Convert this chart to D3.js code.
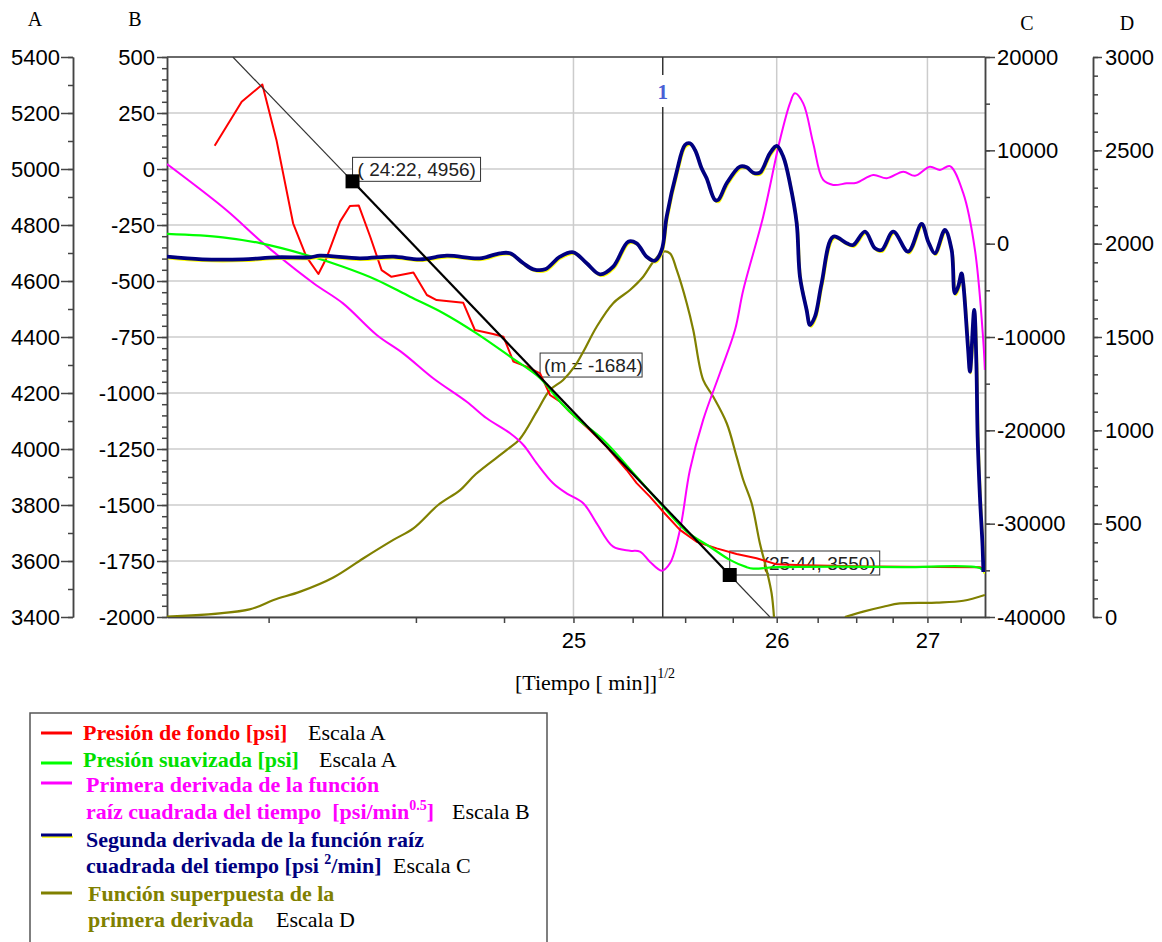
<!DOCTYPE html>
<html>
<head>
<meta charset="utf-8">
<script src="https://cdn.jsdelivr.net/npm/d3@7"></script>
<style>
  body { margin: 0; background: #fff; }
  svg { display: block; font-family: "Liberation Sans", Arial, sans-serif; }
  .serif { font-family: "Liberation Serif", "Times New Roman", serif; white-space: pre; }
</style>
</head>
<body>
<div id="chart"></div>
<script>
// inicio del cierre y fin del registro [h]; el eje x es la raiz del tiempo transcurrido
const T0 = 24.2;
const T_FIN = 27.44;

// [tiempo h, valor]
const presionFondo = [[24.211,5083],[24.227,5240],[24.244,5302],[24.258,5104],[24.277,4806],[24.294,4687],
  [24.311,4625],[24.323,4681],[24.345,4812],[24.362,4868],[24.378,4870],[24.400,4758],[24.423,4639],
  [24.444,4615],[24.494,4630],[24.527,4550],[24.552,4532],[24.625,4522],[24.659,4425],[24.715,4411],
  [24.748,4401],[24.781,4312],[24.826,4294],[24.874,4270],[24.910,4193],[24.948,4169],[24.986,4132],
  [25.066,4068],[25.136,4008],[25.223,3925],[25.268,3878],[25.329,3830],[25.392,3776],[25.474,3711],
  [25.558,3669],[25.663,3645],[25.771,3625],[25.883,3610],[26.000,3588],[26.160,3585],[26.593,3580],
  [27.068,3579],[27.400,3578],[27.439,3568]];

const presionSuavizada = [[24.200,4768],[24.215,4756],[24.242,4735],[24.294,4693],[24.350,4651],[24.413,4604],
  [24.486,4544],[24.570,4485],[24.664,4413],[24.770,4330],[24.874,4253],[24.948,4169],[25.013,4110],
  [25.122,4032],[25.268,3901],[25.392,3794],[25.508,3705],[25.627,3651],[25.734,3604],[25.827,3578],
  [25.864,3573],[26.000,3578],[26.371,3580],[26.825,3578],[27.400,3575],[27.439,3557]];

const primeraDerivada = [[24.200,22],[24.217,-183],[24.245,-332],[24.304,-510],[24.350,-600],[24.413,-741],
  [24.470,-823],[24.543,-934],[24.635,-1039],[24.695,-1113],[24.770,-1180],[24.815,-1232],[24.862,-1314],
  [24.922,-1403],[24.973,-1448],[25.039,-1492],[25.094,-1582],[25.164,-1686],[25.238,-1704],[25.283,-1708],
  [25.329,-1753],[25.385,-1793],[25.425,-1760],[25.474,-1611],[25.524,-1344],[25.592,-1120],[25.680,-912],
  [25.762,-719],[25.808,-540],[25.921,-213],[26.019,129],[26.079,293],[26.109,338],[26.160,293],
  [26.222,115],[26.285,-49],[26.349,-71],[26.437,-64],[26.503,-61],[26.615,-27],[26.708,-41],[26.825,-12],
  [26.909,-30],[27.018,10],[27.093,-4],[27.168,13],[27.270,-108],[27.361,-362],[27.426,-763],[27.439,-897]];

const segundaDerivada = [[24.200,-1396],[24.206,-1674],[24.228,-1674],[24.258,-1460],[24.299,-1460],
  [24.313,-1289],[24.380,-1567],[24.448,-1396],[24.510,-1674],[24.579,-1289],[24.674,-1567],[24.737,-1032],
  [24.770,-1032],[24.815,-2103],[24.850,-2746],[24.892,-2746],[24.948,-1396],[24.999,-924],[25.053,-2103],
  [25.108,-3282],[25.164,-2467],[25.230,211],[25.268,40],[25.314,-1396],[25.353,-1824],[25.385,-678],
  [25.409,2890],[25.458,7711],[25.499,10572],[25.524,10754],[25.550,10036],[25.584,8075],[25.610,7004],
  [25.654,4679],[25.671,4679],[25.717,6468],[25.789,8247],[25.827,8183],[25.864,7604],[25.902,7604],
  [25.960,9682],[26.000,10465],[26.039,9318],[26.079,6468],[26.120,2183],[26.140,-3539],[26.181,-7106],
  [26.202,-8714],[26.233,-7824],[26.275,-4246],[26.349,747],[26.437,40],[26.480,-142],[26.559,1283],
  [26.627,-496],[26.673,-678],[26.754,1283],[26.860,-860],[26.957,2108],[27.006,211],[27.055,-1032],
  [27.130,1465],[27.181,-678],[27.206,-5317],[27.231,-4610],[27.257,-3174],[27.270,-4246],[27.308,-11392],
  [27.322,-13717],[27.355,-7106],[27.372,-12785],[27.382,-20681],[27.400,-27110],[27.421,-32466],[27.427,-35177]];

const funcionSuperpuesta = [[24.200,2],[24.233,41],[24.255,91],[24.286,136],[24.334,212],[24.387,315],
  [24.448,413],[24.494,475],[24.556,600],[24.616,680],[24.662,766],[24.759,895],[24.803,954],[24.862,1100],
  [24.910,1216],[24.960,1270],[25.006,1345],[25.039,1421],[25.094,1555],[25.164,1681],[25.238,1752],
  [25.298,1823],[25.345,1903],[25.392,1957],[25.425,1948],[25.458,1859],[25.508,1681],[25.541,1538],
  [25.592,1270],[25.645,1180],[25.717,1038],[25.771,859],[25.808,734],[25.855,609],[25.902,395],
  [25.941,252],[25.970,127],[25.984,0],[26.200,null],[26.425,0],[26.547,29],[26.684,55],[26.801,73],
  [27.068,77],[27.270,87],[27.439,118]];

// recta de ajuste (m = -1684) y puntos marcados
const rectaAjuste = [[24.221,5400],[24.3667,4956],[25.7333,3550],[25.960,3400]];
const etiquetas = [
  {t: 24.3667, p: 4956, texto: "( 24:22, 4956)", ancho: 128, pad: 5},
  {t: 24.874, p: 4257, texto: "(m = -1684)", ancho: 102, pad: 4},
  {t: 25.7333, p: 3550, texto: "(25:44, 3550)", ancho: 150, pad: 33}
];
const marcador1 = 25.39;

const ticksX = [25, 26, 27];
const ticksXMenores = [24.25, 24.5, 24.75, 25.25, 25.5, 25.75, 26.25, 26.5, 26.75, 27.25];
const ticksA = [3400, 3600, 3800, 4000, 4200, 4400, 4600, 4800, 5000, 5200, 5400];
const ticksB = [-2000, -1750, -1500, -1250, -1000, -750, -500, -250, 0, 250, 500];
const ticksC = [-40000, -30000, -20000, -10000, 0, 10000, 20000];
const ticksD = [0, 500, 1000, 1500, 2000, 2500, 3000];

const margin = {top: 57, left: 167};
const width = 818, height = 560;

const svg = d3.select("#chart").append("svg")
  .attr("width", 1162).attr("height", 942);
const g = svg.append("g").attr("transform", `translate(${margin.left},${margin.top})`);

const xs = d3.scaleSqrt().domain([0, T_FIN - T0]).range([0, width]);
const x = t => xs(t - T0);
const yA = d3.scaleLinear().domain([3400, 5400]).range([height, 0]);
const yB = d3.scaleLinear().domain([-2000, 500]).range([height, 0]);
const yC = d3.scaleLinear().domain([-40000, 20000]).range([height, 0]);
const yD = d3.scaleLinear().domain([0, 3000]).range([height, 0]);

// grid
g.append("g").selectAll("line").data(ticksB).join("line")
  .attr("x1", 0).attr("x2", width)
  .attr("y1", d => yB(d)).attr("y2", d => yB(d))
  .attr("stroke", "#cccccc").attr("stroke-width", 1.5);
g.append("g").selectAll("line").data(ticksX).join("line")
  .attr("x1", d => x(d)).attr("x2", d => x(d))
  .attr("y1", 0).attr("y2", height)
  .attr("stroke", "#cccccc").attr("stroke-width", 1.5);
g.append("line").attr("x1", 0).attr("x2", width).attr("y1", 0).attr("y2", 0)
  .attr("stroke", "#444").attr("stroke-width", 1.5);

// marcador 1
const xm = x(marcador1);
g.append("line").attr("x1", xm).attr("x2", xm).attr("y1", 0).attr("y2", 18)
  .attr("stroke", "#333").attr("stroke-width", 1.5);
g.append("line").attr("x1", xm).attr("x2", xm).attr("y1", 50).attr("y2", height)
  .attr("stroke", "#333").attr("stroke-width", 1.5);
g.append("text").attr("class", "serif").attr("x", xm).attr("y", 42)
  .attr("text-anchor", "middle").attr("font-size", 21).attr("font-weight", "bold")
  .attr("fill", "#4a5fd6").text("1");

// cajas de etiquetas
etiquetas.forEach(e => {
  const px = x(e.t), py = yA(e.p);
  g.append("rect").attr("x", px).attr("y", py - 24).attr("width", e.ancho).attr("height", 24)
    .attr("fill", "#fff").attr("stroke", "#333").attr("stroke-width", 1);
  g.append("text").attr("x", px + e.pad).attr("y", py - 5)
    .attr("font-size", 19).attr("fill", "#222").text(e.texto);
});

// axes
const formato = d => String(d);
function ejeY(scale, lado, xPos, major, minor, largo, pad) {
  const make = lado === "left" ? d3.axisLeft : d3.axisRight;
  const ax = g.append("g").attr("transform", `translate(${xPos},0)`).attr("color", "#444");
  ax.append("g").call(make(scale).tickValues(minor).tickSize(5).tickFormat("").tickSizeOuter(0));
  ax.append("g").call(make(scale).tickValues(major).tickSize(largo).tickPadding(pad)
    .tickSizeOuter(0).tickFormat(formato));
  ax.selectAll("path, line").attr("stroke-width", 1.5);
  ax.selectAll("text").attr("fill", "#000").attr("font-size", 22)
    .attr("font-family", "'Liberation Sans', Arial, sans-serif");
}
ejeY(yA, "left", 73 - margin.left, ticksA, d3.range(3400, 5401, 100), 12, 1);
ejeY(yB, "left", 0, ticksB, d3.range(-2000, 501, 50), 10, 2);
ejeY(yC, "right", width, ticksC, d3.range(-40000, 20001, 5000), 10, 2);
ejeY(yD, "right", 1093 - margin.left, ticksD, d3.range(0, 3001, 100), 9, 3);

const axX = g.append("g").attr("transform", `translate(0,${height})`).attr("color", "#444");
axX.append("g").call(d3.axisBottom(xs).tickValues(ticksXMenores.map(t => t - T0))
  .tickSize(6).tickFormat("").tickSizeOuter(0));
axX.append("g").call(d3.axisBottom(xs).tickValues(ticksX.map(t => t - T0))
  .tickSize(6).tickPadding(9).tickSizeOuter(0).tickFormat(d => Math.round(d + T0)));
axX.selectAll("path, line").attr("stroke-width", 1.5);
axX.selectAll("text").attr("fill", "#000").attr("font-size", 22)
  .attr("font-family", "'Liberation Sans', Arial, sans-serif");

const tituloX = svg.append("text").attr("class", "serif").attr("x", 515).attr("y", 690)
  .attr("font-size", 22).attr("fill", "#000");
tituloX.append("tspan").text("[Tiempo [ min]]");
tituloX.append("tspan").attr("font-size", 14).attr("dy", -12).text("1/2");

// letras de escala
[["A", 35, 26], ["B", 135, 26], ["C", 1027, 30], ["D", 1127, 30]].forEach(([l, lx, ly]) => {
  svg.append("text").attr("class", "serif").attr("x", lx).attr("y", ly)
    .attr("text-anchor", "middle").attr("font-size", 20).text(l);
});

// curves
g.append("clipPath").attr("id", "area").append("rect")
  .attr("width", width).attr("height", height);
const capa = g.append("g").attr("clip-path", "url(#area)");

function curva(datos, y, color, ancho, tipo, dx = 0, dy = 0) {
  const line = d3.line()
    .defined(d => d[1] !== null)
    .x(d => x(d[0]) + dx).y(d => y(d[1]) + dy)
    .curve(tipo);
  capa.append("path").datum(datos).attr("d", line)
    .attr("fill", "none").attr("stroke", color).attr("stroke-width", ancho)
    .attr("stroke-linejoin", "round");
}
curva(funcionSuperpuesta, yD, "#808000", 2.2, d3.curveCatmullRom);
curva(primeraDerivada, yB, "#ff00ff", 2, d3.curveCatmullRom);
curva(presionFondo, yA, "#ff0000", 2, d3.curveLinear);
curva(presionSuavizada, yA, "#00ff00", 2.2, d3.curveCatmullRom);
curva(segundaDerivada, yC, "#ffff00", 2, d3.curveCatmullRom, 1, 1.8);
curva(segundaDerivada, yC, "#000080", 3.8, d3.curveCatmullRom);

// recta de ajuste
const recta = d3.line().x(d => x(d[0])).y(d => yA(d[1]));
capa.append("path").datum([rectaAjuste[0], rectaAjuste[1]]).attr("d", recta)
  .attr("stroke", "#333").attr("stroke-width", 1.2).attr("fill", "none");
capa.append("path").datum([rectaAjuste[2], rectaAjuste[3]]).attr("d", recta)
  .attr("stroke", "#333").attr("stroke-width", 1.2).attr("fill", "none");
capa.append("path").datum([rectaAjuste[1], rectaAjuste[2]]).attr("d", recta)
  .attr("stroke", "#000").attr("stroke-width", 2.2).attr("fill", "none");
g.selectAll(".marca").data([rectaAjuste[1], rectaAjuste[2]]).join("rect")
  .attr("x", d => x(d[0]) - 7).attr("y", d => yA(d[1]) - 7)
  .attr("width", 14).attr("height", 14).attr("fill", "#000");

// legend
svg.append("path").attr("d", "M30,950V713H547V950")
  .attr("fill", "none").attr("stroke", "#555").attr("stroke-width", 1.5);

const leyenda = [
  {color: "#ff0000", linea: 733, filas: [{y: 740, x: 83, partes: [["Presión de fondo [psi]"]], escala: "Escala A", ex: 308}]},
  {color: "#00ff00", texto: "#00e000", linea: 763, filas: [{y: 767, x: 83, partes: [["Presión suavizada [psi]"]], escala: "Escala A", ex: 319}]},
  {color: "#ff00ff", linea: 783, filas: [
    {y: 792, x: 86, partes: [["Primera derivada de la función"]]},
    {y: 819, x: 86, partes: [["raíz cuadrada del tiempo  [psi/min"], ["0.5", true], ["]"]], escala: "Escala B", ex: 452}]},
  {color: "#000080", sombra: true, linea: 835, filas: [
    {y: 847, x: 86, partes: [["Segunda derivada de la función raíz"]]},
    {y: 873, x: 86, partes: [["cuadrada del tiempo [psi "], ["2", true], ["/min]"]], escala: "Escala C", ex: 393}]},
  {color: "#808000", linea: 893, filas: [
    {y: 901, x: 88, partes: [["Función superpuesta de la"]]},
    {y: 927, x: 88, partes: [["primera derivada"]], escala: "Escala D", ex: 276}]}
];

leyenda.forEach(item => {
  if (item.sombra) {
    svg.append("line").attr("x1", 42).attr("x2", 73).attr("y1", item.linea + 1.8).attr("y2", item.linea + 1.8)
      .attr("stroke", "#ffff00").attr("stroke-width", 2);
  }
  svg.append("line").attr("x1", 41).attr("x2", 72).attr("y1", item.linea).attr("y2", item.linea)
    .attr("stroke", item.color).attr("stroke-width", 3);
  item.filas.forEach(f => {
    const txt = svg.append("text").attr("class", "serif").attr("x", f.x).attr("y", f.y)
      .attr("font-size", 22).attr("font-weight", "bold").attr("fill", item.texto || item.color);
    let arriba = false;
    f.partes.forEach(([s, sup]) => {
      const ts = txt.append("tspan").text(s);
      if (sup) { ts.attr("font-size", 14).attr("dy", -9); arriba = true; }
      else if (arriba) { ts.attr("dy", 9); arriba = false; }
    });
    if (f.escala) {
      svg.append("text").attr("class", "serif").attr("x", f.ex).attr("y", f.y)
        .attr("font-size", 22).attr("fill", "#000").text(f.escala);
    }
  });
});
</script>
</body>
</html>
